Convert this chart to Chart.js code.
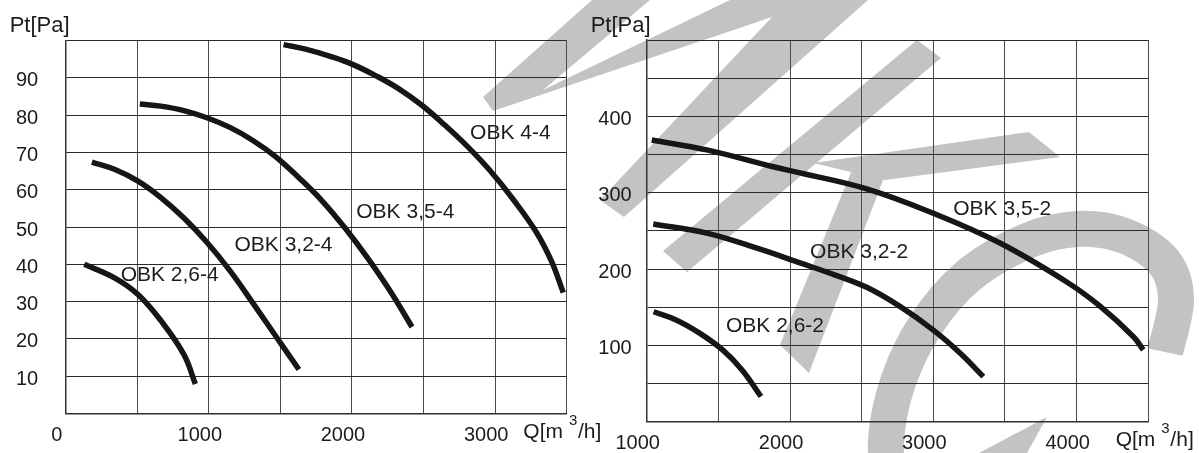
<!DOCTYPE html>
<html>
<head>
<meta charset="utf-8">
<script src="https://cdn.jsdelivr.net/npm/chart.js@4.4.1/dist/chart.umd.min.js"></script>
<style>
  html, body { margin: 0; padding: 0; background: #fff; }
  #page { position: relative; width: 1199px; height: 453px; overflow: hidden; }
  #mark { position: absolute; left: 0; top: 0; }
  canvas { position: absolute; top: 0; }
  #left { left: 0; }
  #right { left: 580px; }
</style>
</head>
<body>
<div id="page">
  <svg id="mark" width="1199" height="453"></svg>
  <canvas id="left" width="612" height="453"></canvas>
  <canvas id="right" width="619" height="453"></canvas>
</div>
<script>
// ---- left chart: OBK ..-4 (Q in m3/h, Pt in Pa)
const namesLeft = ['OBK 2,6-4', 'OBK 3,2-4', 'OBK 3,5-4', 'OBK 4-4'];
const q26_4 = [130, 344, 505, 665, 826, 906];
const p26_4 = [40.0, 36.3, 31.9, 24.9, 15.8, 7.9];
const q32_4 = [183, 344, 505, 665, 826, 986, 1147, 1308, 1468, 1629];
const p32_4 = [67.4, 65.4, 62.3, 57.9, 52.4, 45.9, 38.3, 29.6, 20.7, 11.8];
const q35_4 = [518, 665, 826, 986, 1147, 1308, 1468, 1629, 1789, 1950, 2111, 2271, 2419];
const p35_4 = [83.0, 82.4, 81.2, 79.3, 76.7, 73.2, 68.8, 63.2, 57.1, 49.8, 41.6, 32.6, 23.2];
const q4_4 = [1522, 1682, 1843, 2004, 2164, 2325, 2486, 2646, 2806, 2967, 3128, 3288, 3395, 3476];
const p4_4 = [98.9, 97.6, 95.8, 93.6, 90.6, 87.1, 82.7, 77.4, 71.6, 65.0, 57.3, 48.6, 40.7, 32.4];
const xTicksLeft = [0, 1000, 2000, 3000];
const yTicksLeft = [10, 20, 30, 40, 50, 60, 70, 80, 90];

// ---- right chart: OBK ..-2
const namesRight = ['OBK 2,6-2', 'OBK 3,2-2', 'OBK 3,5-2'];
const q26_2 = [1048, 1209, 1369, 1530, 1664, 1797];
const p26_2 = [144, 133, 116, 94, 68, 33];
const q32_2 = [1046, 1419, 1791, 2070, 2302, 2535, 2767, 3000, 3186, 3349];
const p32_2 = [259, 247, 226, 208, 193, 176, 151, 120, 90, 59];
const q35_2 = [1035, 1419, 1883, 2070, 2535, 3000, 3465, 3931, 4165, 4398, 4465];
const p35_2 = [369, 356, 334, 326, 305, 273, 234, 183, 151, 111, 94];
const xTicksRight = [1000, 2000, 3000, 4000];
const yTicksRight = [100, 200, 300, 400];

// where the curve names sit (Q, Pt at text baseline)
const labelsLeft = [
  { text: 'OBK 4-4', q: 2825, p: 73.5 },
  { text: 'OBK 3,5-4', q: 2030, p: 52.5 },
  { text: 'OBK 3,2-4', q: 1179, p: 43.5 },
  { text: 'OBK 2,6-4', q: 384, p: 35.6 }
];
const labelsRight = [
  { text: 'OBK 3,5-2', q: 3139, p: 270.8 },
  { text: 'OBK 3,2-2', q: 2140, p: 214 },
  { text: 'OBK 2,6-2', q: 1553, p: 117.9 }
];

const FONT = '"Liberation Sans", Arial, Helvetica, sans-serif';
Chart.defaults.font.family = FONT;
Chart.defaults.color = '#1c1c1c';

// ---- watermark behind the charts
const svg = document.getElementById('mark');
function smoothPath(pts) {
  let d = 'M' + pts[0][0] + ',' + pts[0][1];
  for (let i = 0; i < pts.length - 1; i++) {
    const p0 = pts[i - 1] || pts[i], p1 = pts[i], p2 = pts[i + 1], p3 = pts[i + 2] || p2;
    const c1 = [p1[0] + (p2[0] - p0[0]) / 6, p1[1] + (p2[1] - p0[1]) / 6];
    const c2 = [p2[0] - (p3[0] - p1[0]) / 6, p2[1] - (p3[1] - p1[1]) / 6];
    d += ' C' + c1 + ' ' + c2 + ' ' + p2;
  }
  return d;
}
const gray = '#c3c3c3';
const polys = [
  '592,0 483,97 493,111 772,17 600,200 624,217 868,0 730,0 543,90 650,0',
  '663,251 687,272 941,58 917,40',
  '780,345 809,373 887,170 857,158',
  '813,163 1029,132 1060,157 885,180',
  '962,462 1022,462 1047,417'
];
let markup = '';
polys.forEach(p => { markup += '<polygon points="' + p + '" fill="' + gray + '"/>'; });
const cPts = [[1165, 352], [1176, 300], [1164, 262], [1125, 236], [1077, 229], [1027, 241],
  [968, 276], [925, 326], [898, 382], [886, 440], [890, 495]];
markup += '<path d="' + smoothPath(cPts) + '" fill="none" stroke="' + gray + '" stroke-width="36"/>';
svg.innerHTML = markup;

// ---- text drawn on the chart (curve names, axis captions)
const textPlugin = {
  id: 'chartText',
  afterDatasetsDraw(chart, args, opts) {
    const { ctx, chartArea, scales } = chart;
    ctx.save();
    ctx.fillStyle = '#1c1c1c';
    ctx.textBaseline = 'alphabetic';
    ctx.textAlign = 'left';
    ctx.font = '21px ' + FONT;
    opts.labels.forEach(l => {
      ctx.fillText(l.text, scales.x.getPixelForValue(l.q), scales.y.getPixelForValue(l.p));
    });
    // y caption
    ctx.font = '22px ' + FONT;
    ctx.fillText('Pt[Pa]', chartArea.left - 56, chartArea.top - 8.5);
    // x caption with superscript
    const base = chartArea.bottom + 24;
    let x0 = chartArea.right + opts.qOffset;
    ctx.font = '21px ' + FONT;
    ctx.fillText('Q[m', x0, base);
    const w = ctx.measureText('Q[m').width;
    ctx.font = '15px ' + FONT;
    ctx.fillText('3', x0 + w + 6, chartArea.bottom + 11.5);
    ctx.font = '21px ' + FONT;
    ctx.fillText('/h]', x0 + w + 15, base);
    ctx.restore();
  }
};

function makeDatasets(names, qs, ps) {
  return names.map((name, i) => ({
    label: name,
    data: qs[i].map((q, j) => ({ x: q, y: ps[i][j] })),
    borderColor: '#161616',
    borderWidth: 5.5,
    borderCapStyle: 'butt',
    pointRadius: 0,
    fill: false,
    tension: 0.4
  }));
}

function makeChart(id, c) {
  return new Chart(document.getElementById(id), {
    type: 'line',
    data: { datasets: makeDatasets(c.names, c.q, c.p) },
    options: {
      responsive: false,
      animation: false,
      layout: { padding: { top: c.top, right: c.padRight, left: 0, bottom: 0 } },
      plugins: {
        legend: { display: false },
        tooltip: { enabled: false },
        chartText: { labels: c.labels, qOffset: c.qOffset }
      },
      scales: {
        x: {
          type: 'linear',
          min: c.xMin, max: c.xMax,
          afterFit: s => { s.height = 31.3; },
          ticks: {
            stepSize: 500,
            autoSkip: false,
            maxRotation: 0,
            padding: 10,
            labelOffset: -9,
            font: { size: 20 },
            callback: v => c.xTicks.includes(v) ? String(v) : ''
          },
          grid: { color: '#4a4a4a', lineWidth: 1, drawTicks: false },
          border: { color: '#333', width: 1.5 }
        },
        y: {
          min: 0, max: c.yMax,
          afterFit: s => { s.width = c.yWidth; },
          ticks: {
            stepSize: c.yStep,
            autoSkip: false,
            padding: c.yPad,
            labelOffset: 3,
            font: { size: 20 },
            callback: v => c.yTicks.includes(v) ? String(v) : ''
          },
          grid: { color: '#2a2a2a', lineWidth: 1, drawTicks: false },
          border: { color: '#333', width: 1.5 }
        }
      }
    },
    plugins: [textPlugin]
  });
}

makeChart('left', {
  names: namesLeft,
  q: [q26_4, q32_4, q35_4, q4_4],
  p: [p26_4, p32_4, p35_4, p4_4],
  labels: labelsLeft,
  xMin: 0, xMax: 3500, xTicks: xTicksLeft,
  yMax: 100, yStep: 10, yTicks: yTicksLeft,
  top: 40.5, padRight: 45.3, yWidth: 65.7, yPad: 27.5, qOffset: -43.4
});

makeChart('right', {
  names: namesRight,
  q: [q26_2, q32_2, q35_2],
  p: [p26_2, p32_2, p35_2],
  labels: labelsRight,
  xMin: 1000, xMax: 4500, xTicks: xTicksRight,
  yMax: 500, yStep: 50, yTicks: yTicksRight,
  top: 40, padRight: 50.7, yWidth: 66.7, yPad: 15, qOffset: -32.6
});
</script>
</body>
</html>
